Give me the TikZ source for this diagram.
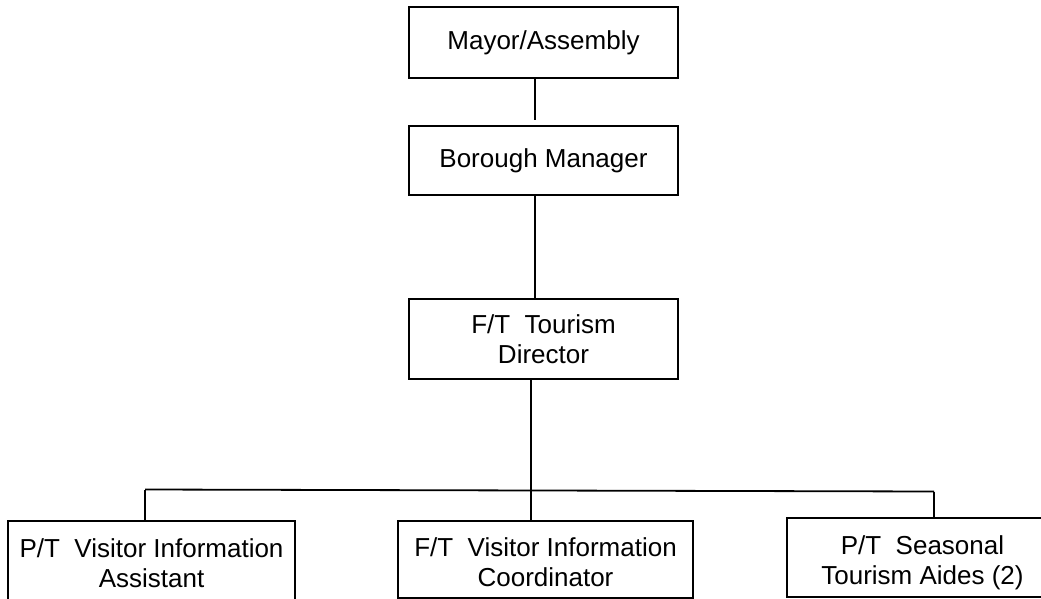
\documentclass[tikz,border=0pt]{standalone}
\usepackage{fontspec}
\setmainfont{Liberation Sans}
\begin{document}
\begin{tikzpicture}[x=1pt,y=-1pt,
  box/.style={draw=black, line width=1.6pt, align=center, inner sep=0pt,
              font=\fontsize{26}{30}\selectfont},
  link/.style={line width=2.6pt},
  bus/.style={line width=1.8pt}]
\fill[white] (0,0) rectangle (1041,599);
\useasboundingbox (0,0) rectangle (1041,599);
\clip (0,0) rectangle (1041,599);

% chain of command
\node[box, minimum width=269pt, minimum height=71pt] (mayor) at (543.5,42.5) {Mayor/Assembly};
\node[box, minimum width=269pt, minimum height=69pt] (manager) at (543.5,160.5) {Borough Manager};
\node[box, minimum width=269pt, minimum height=80pt] (director) at (543.5,339) {F/T\ \ Tourism\\Director};

% staff positions (the struts push the text a little below the box centre)
\node[box, minimum width=287pt, minimum height=84pt] (assistant) at (151.5,563) {P/T\ \ Visitor Information\\Assistant};
\node[box, minimum width=295pt, minimum height=77pt] (coordinator) at (545.5,559.5) {\rule{0pt}{24pt}F/T\ \ Visitor Information\\Coordinator};
\node[box, minimum width=271pt, minimum height=79pt] (aides) at (922.5,557.5) {\rule{0pt}{30pt}P/T\ \ Seasonal\\Tourism Aides (2)};

% reporting lines
\draw[link, shorten >=5pt] ([xshift=-8.5pt]mayor.south) -- ([xshift=-8.5pt]manager.north);
\draw[link] ([xshift=-8.5pt]manager.south) -- ([xshift=-8.5pt]director.north);

\coordinate (busL) at (145,489.5);
\coordinate (busM) at (531,490.5);
\coordinate (busR) at (934,491.5);
\draw[bus] ([xshift=-12.5pt]director.south) -- (busM);
\draw[bus] (busL) -- (busR);
\draw[bus] (busL) -- (busL |- assistant.north);
\draw[bus] (busM) -- (busM |- coordinator.north);
\draw[bus] (busR) -- (busR |- aides.north);
\end{tikzpicture}
\end{document}
